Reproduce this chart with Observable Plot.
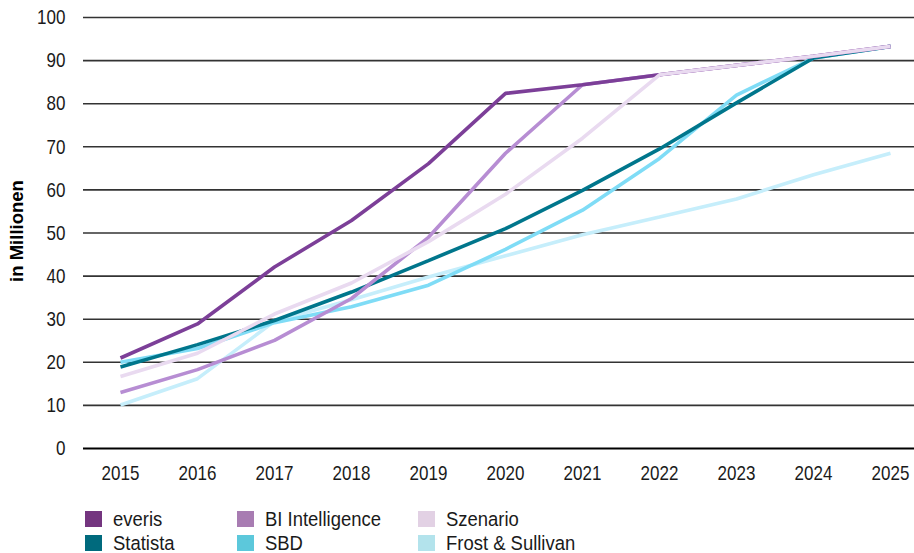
<!DOCTYPE html>
<html>
<head>
<meta charset="utf-8">
<script src="https://cdn.jsdelivr.net/npm/d3@7"></script>
<script src="https://cdn.jsdelivr.net/npm/@observablehq/plot@0.6"></script>
<style>
  html, body { margin: 0; padding: 0; background: #fff; }
  body { width: 914px; height: 553px; overflow: hidden; font-family: "Liberation Sans", Arial, sans-serif; }
  #chart { position: relative; }
  #legend { position: absolute; left: 85px; top: 511px; display: grid; grid-template-columns: 152px 181px 220px; row-gap: 8px; font-size: 20.5px; color: #1a1a1a; }
  .item { display: flex; align-items: center; height: 16px; line-height: 16px; }
  .sw { width: 17px; height: 16px; margin-right: 11px; flex: none; }
  .tx { display: inline-block; white-space: nowrap; transform: scaleX(0.9); transform-origin: left center; }
</style>
</head>
<body>
<div id="chart"></div>
<div id="legend"></div>
<script>
const years = [2015, 2016, 2017, 2018, 2019, 2020, 2021, 2022, 2023, 2024, 2025];
const yTicks = [0, 10, 20, 30, 40, 50, 60, 70, 80, 90, 100];

const everis   = [21.0, 28.9, 42.1, 52.9, 66.1, 82.4, 84.4, 86.7, 88.9, 91.0, 93.3];
const statista = [18.9, 24.1, 29.7, 36.3, 43.6, 51.0, 59.9, 69.5, 80.2, 90.6, 93.3];
const biIntel  = [13.0, 18.3, 25.1, 34.8, 49.0, 68.5, 84.4, 86.7, 88.9, 91.0, 93.3];
const szenario = [16.7, 22.1, 31.2, 38.4, 48.0, 59.0, 72.0, 86.7, 88.9, 91.0, 93.3];
const sbd      = [20.0, 23.2, 29.2, 32.9, 37.9, 46.2, 55.3, 67.3, 82.0, 90.6, 93.3];
const frost    = [10.1, 16.2, 29.5, 34.5, 39.8, 44.7, 49.6, 53.7, 57.9, 63.5, 68.5];

// drawing order (first drawn = bottom)
const seriesNames = ["Frost & Sullivan", "SBD", "Statista", "BI Intelligence", "everis", "Szenario"];
const seriesValues = [frost, sbd, statista, biIntel, everis, szenario];
const lineColors = ["#c6eefb", "#7fdcf6", "#00768c", "#b78dd3", "#7c3f98", "#e9daf0"];

// legend layout (row-major)
const legendNames = ["everis", "BI Intelligence", "Szenario", "Statista", "SBD", "Frost & Sullivan"];
const legendColors = ["#74357f", "#a87cb2", "#e2d1e4", "#006a7d", "#5cc8db", "#b3e3ec"];

const table = [];
seriesNames.forEach((name, i) => {
  seriesValues[i].forEach((v, j) => {
    if (v != null) table.push({series: name, year: years[j], value: v});
  });
});

const chart = Plot.plot({
  width: 914,
  height: 492,
  marginLeft: 83,
  marginRight: 0,
  marginTop: 17,
  marginBottom: 44,
  style: {fontFamily: '"Liberation Sans", Arial, sans-serif', fontSize: "21px", color: "#1a1a1a", background: "#fff"},
  x: {type: "point", domain: years, range: [120, 890], padding: 0, label: null},
  y: {domain: [0, 100], label: null},
  color: {domain: seriesNames, range: lineColors},
  marks: [
    Plot.ruleY(yTicks.filter(d => d > 0), {stroke: "#333", strokeWidth: 1.6}),
    Plot.ruleY([0], {stroke: "#000", strokeWidth: 1.8}),
    Plot.axisX({ticks: years, tickSize: 0, tickPadding: 17, tickFormat: d => String(d), fontSize: "21px"}),
    Plot.axisY({ticks: yTicks, tickSize: 0, tickPadding: 18, fontSize: "21px", tickFormat: d => String(d)}),
    Plot.line(table, {x: "year", y: "value", z: "series", stroke: "series", strokeWidth: 3.6, strokeLinejoin: "miter", strokeLinecap: "butt"}),
    Plot.text(["in Millionen"], {frameAnchor: "left", textAnchor: "middle", dx: -66, dy: -2, rotate: -90, fontWeight: "bold", fontSize: 18.5, fill: "#000"})
  ]
});
document.getElementById("chart").appendChild(chart);

// condense the tick labels horizontally (the reference uses a condensed face)
chart.querySelectorAll('g[aria-label="x-axis tick label"] text, g[aria-label="y-axis tick label"] text').forEach(t => {
  let w = 0;
  try { w = t.getComputedTextLength(); } catch (e) { w = 0; }
  if (!w) w = t.textContent.length * 11.7;
  t.setAttribute("textLength", (w * 0.81).toFixed(2));
  t.setAttribute("lengthAdjust", "spacingAndGlyphs");
});

const legend = document.getElementById("legend");
legendNames.forEach((n, i) => {
  const it = document.createElement("div");
  it.className = "item";
  const sw = document.createElement("span");
  sw.className = "sw";
  sw.style.background = legendColors[i];
  const tx = document.createElement("span");
  tx.className = "tx";
  tx.textContent = n;
  it.appendChild(sw);
  it.appendChild(tx);
  legend.appendChild(it);
});
</script>
</body>
</html>
